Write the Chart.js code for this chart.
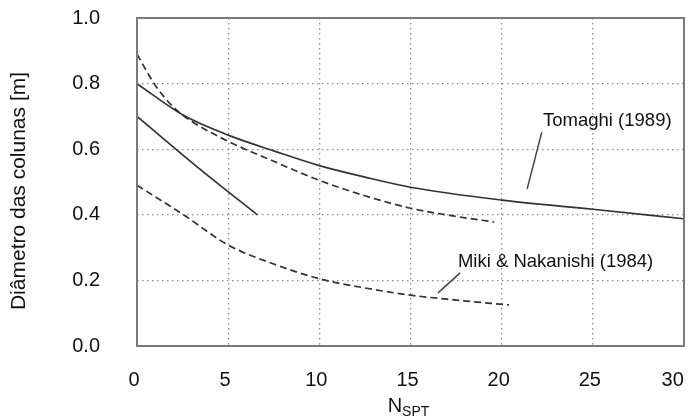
<!DOCTYPE html>
<html>
<head>
<meta charset="utf-8">
<script src="https://cdn.jsdelivr.net/npm/chart.js@4.4.0/dist/chart.umd.min.js"></script>
<style>
  html, body { margin: 0; padding: 0; background: #fff; }
  #wrap { width: 688px; height: 417px; }
</style>
</head>
<body>
<div id="wrap"><canvas id="nspt" width="688" height="417"></canvas></div>
<script>
// Column diameter [m] against N_SPT
const tomaghiN = [0, 2.5, 5, 7.5, 10, 12.5, 15, 20, 25, 30];
const tomaghiD = [0.80, 0.705, 0.643, 0.595, 0.55, 0.515, 0.484, 0.445, 0.417, 0.388];

const upperN = [0, 1, 2, 3, 5, 7.5, 10, 12.5, 15, 17.5, 19.6];
const upperD = [0.89, 0.795, 0.728, 0.685, 0.624, 0.563, 0.505, 0.458, 0.42, 0.395, 0.378];

const shortN = [0, 3.5, 6.6];
const shortD = [0.70, 0.537, 0.40];

const mikiN = [0, 2.5, 5, 7.5, 10, 12.5, 15, 17.5, 20.4];
const mikiD = [0.49, 0.402, 0.308, 0.25, 0.205, 0.177, 0.155, 0.14, 0.125];

const xTicks = [0, 5, 10, 15, 20, 25, 30];
const yTicks = [0, 0.2, 0.4, 0.6, 0.8, 1.0];

// text labels with their leader lines, in data units
const notes = [
  { text: 'Tomaghi (1989)', at: [22.27, 0.671], from: [22.2, 0.652], to: [21.4, 0.479] },
  { text: 'Miki & Nakanishi (1984)', at: [17.6, 0.241], from: [17.72, 0.223], to: [16.51, 0.162] }
];

const FONT = '"Liberation Sans", Arial, Helvetica, sans-serif';
const ink = '#333';

function pts(xs, ys) {
  return xs.map((x, i) => ({ x: x, y: ys[i] }));
}

function series(xs, ys, dashed) {
  return {
    data: pts(xs, ys),
    borderColor: ink,
    borderWidth: 1.7,
    borderDash: dashed ? [7, 4] : [],
    pointRadius: 0,
    fill: false,
    cubicInterpolationMode: 'monotone'
  };
}

const extras = {
  id: 'extras',
  afterDraw(chart) {
    const { ctx, chartArea: a, scales: { x, y } } = chart;
    ctx.save();

    // frame
    ctx.strokeStyle = '#7a7a7a';
    ctx.lineWidth = 2;
    ctx.strokeRect(a.left, a.top, a.right - a.left, a.bottom - a.top);

    // labels + leaders
    ctx.fillStyle = '#111';
    ctx.strokeStyle = '#444';
    ctx.lineWidth = 1.5;
    ctx.font = '18.5px ' + FONT;
    ctx.textBaseline = 'alphabetic';
    ctx.textAlign = 'left';
    notes.forEach(n => {
      ctx.beginPath();
      ctx.moveTo(x.getPixelForValue(n.from[0]), y.getPixelForValue(n.from[1]));
      ctx.lineTo(x.getPixelForValue(n.to[0]), y.getPixelForValue(n.to[1]));
      ctx.stroke();
      ctx.fillText(n.text, x.getPixelForValue(n.at[0]), y.getPixelForValue(n.at[1]));
    });

    // x title with subscript
    ctx.font = '20px ' + FONT;
    const wN = ctx.measureText('N').width;
    ctx.font = '14px ' + FONT;
    const wS = ctx.measureText('SPT').width;
    const x0 = (a.left + a.right) / 2 - (wN + wS) / 2 - 2;
    ctx.font = '20px ' + FONT;
    ctx.fillText('N', x0, 412);
    ctx.font = '14px ' + FONT;
    ctx.fillText('SPT', x0 + wN, 416);

    // y title
    ctx.translate(19, 191);
    ctx.rotate(-Math.PI / 2);
    ctx.font = '21px ' + FONT;
    ctx.textAlign = 'center';
    ctx.textBaseline = 'middle';
    ctx.fillText('Diâmetro das colunas [m]', 0, 0);
    ctx.restore();
  }
};

new Chart(document.getElementById('nspt').getContext('2d'), {
  type: 'line',
  data: {
    datasets: [
      series(tomaghiN, tomaghiD, false),
      series(upperN, upperD, true),
      series(shortN, shortD, false),
      series(mikiN, mikiD, true)
    ]
  },
  options: {
    responsive: false,
    animation: false,
    events: [],
    layout: { padding: { top: 18, right: 4, left: 0, bottom: 0 } },
    plugins: { legend: { display: false }, tooltip: { enabled: false } },
    scales: {
      x: {
        type: 'linear',
        min: 0,
        max: 30,
        afterBuildTicks: s => { s.ticks = xTicks.map(v => ({ value: v })); },
        afterFit: s => { s.height = 71; s.paddingLeft = 0; s.paddingRight = 0; },
        grid: { color: '#8c8c8c', lineWidth: 1.3, drawTicks: false },
        border: { display: false, dash: [1.5, 3.5] },
        ticks: {
          padding: 22,
          labelOffset: -3,
          color: '#111',
          font: { family: FONT, size: 20 },
          callback: v => (v === 30 ? '30   ' : String(v))
        }
      },
      y: {
        min: 0,
        max: 1,
        afterBuildTicks: s => { s.ticks = yTicks.map(v => ({ value: v })); },
        afterFit: s => { s.width = 137; s.paddingTop = 0; s.paddingBottom = 0; },
        grid: { color: '#8c8c8c', lineWidth: 1.3, drawTicks: false },
        border: { display: false, dash: [1.5, 3.5] },
        ticks: {
          padding: 37,
          color: '#111',
          font: { family: FONT, size: 20 },
          callback: v => v.toFixed(1)
        }
      }
    }
  },
  plugins: [extras]
});
</script>
</body>
</html>
